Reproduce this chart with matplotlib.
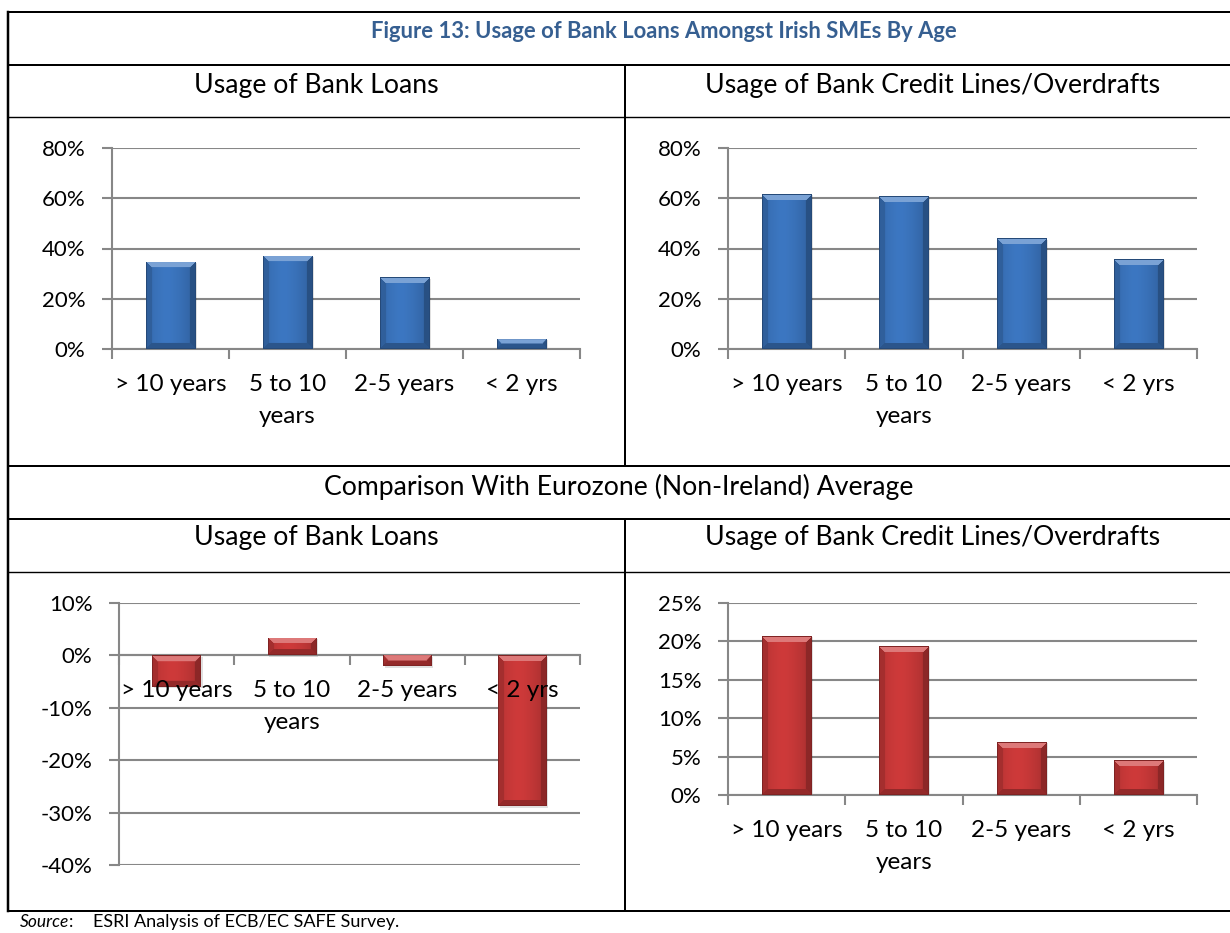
import numpy as np
import matplotlib
matplotlib.use("Agg")
import matplotlib.pyplot as plt
from matplotlib.lines import Line2D

plt.rcParams["font.family"] = ["Lato", "DejaVu Sans"]

# ---- data -------------------------------------------------------------
age_groups = ["> 10 years", "5 to 10\nyears", "2-5 years", "< 2 yrs"]
loans_ireland = [34.8, 37.2, 28.5, 4.1]
credit_ireland = [61.6, 60.8, 44.0, 35.8]
loans_vs_ez = [-6.0, 3.4, -2.1, -28.8]
credit_vs_ez = [20.7, 19.4, 6.9, 4.5]

title = "Figure 13: Usage of Bank Loans Amongst Irish SMEs By Age"
sub_loans = "Usage of Bank Loans"
sub_credit = "Usage of Bank Credit Lines/Overdrafts"
comparison = "Comparison With Eurozone (Non-Ireland) Average"

W, H = 1230, 933
fig = plt.figure(figsize=(W / 100, H / 100), dpi=100)
fig.patch.set_facecolor("white")

GRID = "#878787"
BLUE = np.array([0x3C, 0x77, 0xC2]) / 255
RED = np.array([0xCE, 0x3A, 0x3A]) / 255
XLAB = 17.5
YLAB = 16
SUB = 19.2


def px_axes(x0, x1, ytop, ybot):
    return fig.add_axes([x0 / W, 1 - ybot / H, (x1 - x0) / W, (ybot - ytop) / H])


def bevel_image(base, w, h, b=6):
    w = max(int(round(w)), 2)
    h = max(int(round(h)), 2)
    yy, xx = np.mgrid[0:h, 0:w] + 0.5
    dl, dr, dt, db = xx, w - xx, yy, h - yy
    d = np.stack([dt, db, dl, dr])
    edge = np.argmin(d, axis=0)
    dmin = d.min(axis=0)
    img = np.empty((h, w, 3))
    # interior: gentle horizontal shading, brighter left of centre
    u = xx / w
    f = 1.0 - 0.18 * np.abs(u - 0.42) ** 1.5 * 2.5
    img[:] = base
    img *= f[..., None]
    inb = dmin < b
    light = base + (1 - base) * 0.32
    top = inb & (edge == 0)
    bot = inb & (edge == 1)
    lef = inb & (edge == 2)
    rig = inb & (edge == 3)
    img[top] = light
    img[bot] = base * 0.72
    img[lef] = base * 0.80
    img[rig] = base * 0.68
    # thin dark outline
    rim = dmin < 1.0
    img[rim] = base * 0.62
    return np.clip(img, 0, 1)


def bar_panel(ax, values, ymin, ymax, step, base):
    x = np.arange(len(values))
    ax.set_xlim(-0.5, len(values) - 0.5)
    ax.set_ylim(ymin, ymax)
    bars = ax.bar(x, values, width=0.42, color=base, zorder=3, linewidth=0)
    ticks = np.arange(ymin, ymax + step / 2, step)
    ax.set_yticks(ticks)
    ax.set_yticklabels([f"{t:.0f}%" for t in ticks])
    ax.yaxis.grid(True, color=GRID, linewidth=1.5, zorder=0)
    ax.set_axisbelow(True)
    for s in ("top", "right"):
        ax.spines[s].set_visible(False)
    ax.spines["left"].set_color(GRID)
    ax.spines["left"].set_linewidth(1.5)
    ax.spines["bottom"].set_color(GRID)
    ax.spines["bottom"].set_linewidth(1.5)
    ax.spines["bottom"].set_position(("data", 0))
    ax.set_xticks(np.arange(-0.5, len(values)))
    ax.set_xticklabels([])
    ax.tick_params(axis="x", length=7, width=1.5, color=GRID, direction="out")
    ax.tick_params(axis="y", length=7, width=1.5, color=GRID, pad=12,
                   labelsize=YLAB)
    # category labels sit just under the zero line, above the bars
    for xi, lab in zip(x, age_groups):
        ax.annotate(lab, xy=(xi, 0), xycoords="data", xytext=(0, -18),
                    textcoords="offset points", ha="center", va="top",
                    fontsize=XLAB, linespacing=1.65, zorder=6,
                    annotation_clip=False)
    # per-bar bevel shading drawn inside each bar
    tr = ax.transData
    for p in bars.patches:
        x0, y0 = p.get_x(), p.get_y()
        x1, y1 = x0 + p.get_width(), y0 + p.get_height()
        lo, hi = min(y0, y1), max(y0, y1)
        (px0, py0), (px1, py1) = tr.transform([(x0, lo), (x1, hi)])
        img = bevel_image(base, px1 - px0, py1 - py0)
        # soft shadow to the lower right
        ax.add_patch(plt.Rectangle((x0 + 0.015, lo - (ymax - ymin) * 0.006),
                                   p.get_width(), hi - lo, color="black",
                                   alpha=0.12, zorder=2.5, linewidth=0))
        im = ax.imshow(img, extent=(x0, x1, lo, hi), aspect="auto",
                       zorder=3.5, interpolation="bilinear")
        im.set_clip_path(p)
    ax.set_xlim(-0.5, len(values) - 0.5)
    ax.set_ylim(ymin, ymax)
    return ax


ax1 = px_axes(112, 580, 148, 349)
bar_panel(ax1, loans_ireland, 0, 80, 20, BLUE)
ax2 = px_axes(728, 1197, 148, 349)
bar_panel(ax2, credit_ireland, 0, 80, 20, BLUE)
ax3 = px_axes(119, 580, 603, 865)
bar_panel(ax3, loans_vs_ez, -40, 10, 10, RED)
ax4 = px_axes(728, 1197, 603, 795)
bar_panel(ax4, credit_vs_ez, 0, 25, 5, RED)

# ---- table frame -----------------------------------------------------
def hline(y, x0=8, x1=1230, lw=2.0):
    fig.add_artist(Line2D([x0 / W, x1 / W], [1 - y / H, 1 - y / H],
                          color="black", linewidth=lw * 0.72))


def vline(x, y0, y1, lw=2.0):
    fig.add_artist(Line2D([x / W, x / W], [1 - y0 / H, 1 - y1 / H],
                          color="black", linewidth=lw * 0.72))


for y in (12, 65, 466, 519, 911):
    hline(y)
for y in (117, 572):
    hline(y, lw=1.4)
vline(8, 12, 911, lw=2.5)
vline(625, 65, 466)
vline(625, 519, 911)

# ---- text ---------------------------------------------------------------
fig.text(664 / W, 1 - 32 / H, title, ha="center", va="center",
         fontsize=15.8, fontweight="bold", color="#365F91")
fig.text(316 / W, 1 - 85 / H, sub_loans, ha="center", va="center", fontsize=SUB)
fig.text(316 / W, 1 - 538 / H, sub_loans, ha="center", va="center", fontsize=SUB)
fig.text(933 / W, 1 - 85 / H, sub_credit, ha="center", va="center", fontsize=SUB)
fig.text(933 / W, 1 - 538 / H, sub_credit, ha="center", va="center", fontsize=SUB)
fig.text(619 / W, 1 - 487 / H, comparison, ha="center", va="center", fontsize=SUB)

src_y = 1 - 922 / H
src = fig.text(20 / W, src_y, "Source", ha="left", va="center", fontsize=12.5,
               style="italic")
renderer = fig.canvas.get_renderer()
src_end = src.get_window_extent(renderer).x1
fig.text(src_end / W, src_y, ":", ha="left", va="center", fontsize=12.5)
fig.text(93 / W, src_y, "ESRI Analysis of ECB/EC SAFE Survey.", ha="left",
         va="center", fontsize=13)

fig.savefig("out.png", dpi=100)
